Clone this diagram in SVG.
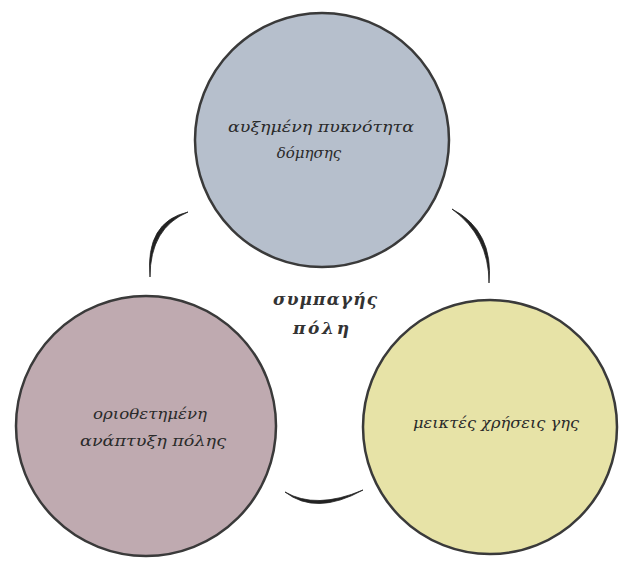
<svg xmlns="http://www.w3.org/2000/svg" width="625" height="562" viewBox="0 0 625 562">
<style>
.node{stroke:#3a3a3a;stroke-width:2.5}
.lbl{font-family:"DejaVu Serif","Liberation Serif",serif;font-style:italic;font-size:15px;fill:#2a2a2a;text-anchor:middle}
.mid{font-size:17px;font-weight:bold;fill:#333}
.arc{fill:#222;stroke:#222;stroke-width:0.8;stroke-linejoin:round}
</style>
<rect width="625" height="562" fill="#ffffff"/>
<g id="connectors">
<path class="arc" d="M188,212 Q145,222 150,277 Q150,228 188,212 Z"/>
<path class="arc" d="M452,209 Q494,231 489,283 Q489,236 452,209 Z"/>
<path class="arc" d="M285,492 Q316,516 363,490 Q316,510 285,492 Z"/>
</g>
<g id="node-top">
<circle class="node" cx="322" cy="140" r="127" fill="#b6bfcc"/>
<text class="lbl" x="321" y="132" textLength="186" lengthAdjust="spacingAndGlyphs">αυξημένη πυκνότητα</text>
<text class="lbl" x="309" y="158">δόμησης</text>
</g>
<g id="node-center">
<text class="lbl mid" x="325" y="305" textLength="104" lengthAdjust="spacing">συμπαγής</text>
<text class="lbl mid" x="321" y="334" textLength="56" lengthAdjust="spacing">πόλη</text>
</g>
<g id="node-left">
<circle class="node" cx="146" cy="426" r="130" fill="#bfaab0"/>
<text class="lbl" x="150" y="419" textLength="114" lengthAdjust="spacingAndGlyphs">οριοθετημένη</text>
<text class="lbl" x="153" y="446" textLength="146" lengthAdjust="spacingAndGlyphs">ανάπτυξη πόλης</text>
</g>
<g id="node-right">
<circle class="node" cx="490" cy="427" r="127" fill="#e7e3a7"/>
<text class="lbl" x="496" y="428" textLength="166" lengthAdjust="spacingAndGlyphs">μεικτές χρήσεις γης</text>
</g>
</svg>
